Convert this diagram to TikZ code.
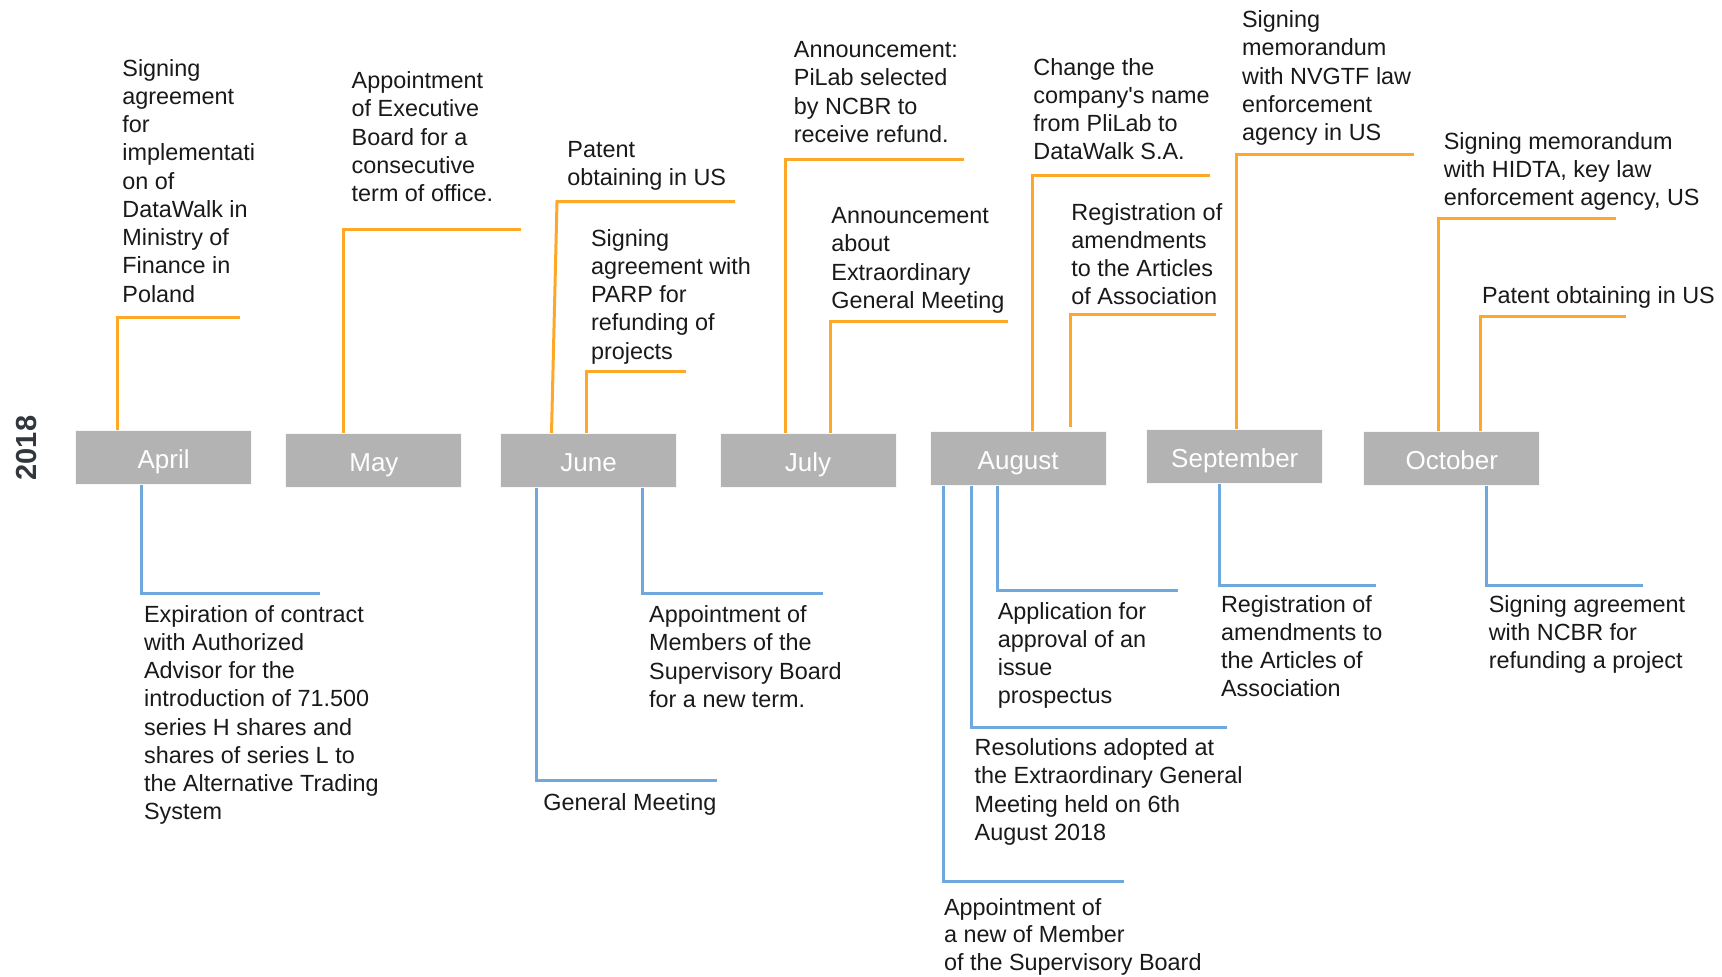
\documentclass[tikz,border=0pt]{standalone}
\usepackage{fontspec}
\setmainfont{Liberation Sans}
\definecolor{orng}{RGB}{255,167,38}
\definecolor{blu}{RGB}{111,168,220}
\definecolor{boxgray}{RGB}{179,179,179}
\definecolor{txtc}{RGB}{25,25,25}
\definecolor{yearc}{RGB}{50,55,62}
\begin{document}
\begin{tikzpicture}[x=0.5pt,y=-0.5pt,
  month/.style={fill=boxgray, draw=white!90!boxgray, line width=0.5pt, minimum width=88pt, minimum height=27pt, inner sep=0pt, text height=11.2pt, text depth=0pt, text=white, font=\fontsize{13}{15}\selectfont},
  txt/.style={anchor=base west, align=left, inner sep=0pt, text=txtc, font=\fontsize{11.7}{14.125}\selectfont},
  up/.style={draw=orng, line width=1.5pt},
  down/.style={draw=blu, line width=1.5pt}]
\useasboundingbox (0,0) rectangle (1722,976);
% year
\node[rotate=90, text=yearc, font=\fontsize{14.5}{16}\bfseries\selectfont] (year) at (26.7,448) {2018};
% months
\node[month] (apr) at (163.6,457.5) {April};
\node[month] (may) at (373.9,460) {May};
\node[month] (jun) at (588.6,460) {June};
\node[month] (jul) at (808,460) {July};
\node[month] (aug) at (1018.2,458) {August};
\node[month] (sep) at (1234.8,456) {September};
\node[month] (oct) at (1451.8,458) {October};
% top corner coordinates
\coordinate (t1) at (117.5,317.3);
\coordinate (t2) at (343.3,229.3);
\coordinate (t3) at (557,201.5);
\coordinate (t3b) at (551.5,433);
\coordinate (t4) at (586,371.7);
\coordinate (t5) at (785.8,159);
\coordinate (t6) at (830.2,321.7);
\coordinate (t7) at (1032.3,175);
\coordinate (t8) at (1070.1,314.3);
\coordinate (t9) at (1236.7,154);
\coordinate (t10) at (1438.4,218.3);
\coordinate (t11) at (1480.5,316.7);
% top connectors
\draw[up] (t1 |- apr.north) -- (t1) -- (240,317.3);
\draw[up] (t2 |- may.north) -- (t2) -- (521,229.3);
\draw[up] (t3b) -- (t3) -- (735,201.5);
\draw[up] (t4 |- jun.north) -- (t4) -- (686.3,371.7);
\draw[up] (t5 |- jul.north) -- (t5) -- (963.7,159);
\draw[up] (t6 |- jul.north) -- (t6) -- (1007.8,321.7);
\draw[up] (t7 |- aug.north) -- (t7) -- (1210,175);
\draw[up] ([yshift=2pt]t8 |- aug.north) -- (t8) -- (1215.7,314.3);
\draw[up] (t9 |- sep.north) -- (t9) -- (1413.9,154);
\draw[up] (t10 |- oct.north) -- (t10) -- (1615.6,218.3);
\draw[up] (t11 |- oct.north) -- (t11) -- (1626,316.7);
% top texts (anchored at the baseline of their last line)
\node[txt] (e1) at (122,302) {Signing\\agreement\\for\\implementati\\on of\\DataWalk in\\Ministry of\\Finance in\\Poland};
\node[txt] (e2) at (351.3,201.5) {Appointment\\of Executive\\Board for a\\consecutive\\term of office.};
\node[txt] (e3) at (567,185.25) {Patent\\obtaining in US};
\node[txt] (e4) at (590.6,359) {Signing\\agreement with\\PARP for\\refunding of\\projects};
\node[txt] (e5) at (793.5,142.25) {Announcement:\\PiLab selected\\by NCBR to\\receive refund.};
\node[txt] (e6) at (831,308.25) {Announcement\\about\\Extraordinary\\General Meeting};
\node[txt] (e7) at (1033,159.75) {Change the\\company\textquotesingle s name\\from PliLab to\\DataWalk S.A.};
\node[txt] (e8) at (1071,304.75) {Registration of\\amendments\\to the Articles\\of Association};
\node[txt] (e9) at (1241.7,140.7) {Signing\\memorandum\\with NVGTF law\\enforcement\\agency in US};
\node[txt] (e10) at (1443.4,205.5) {Signing memorandum\\with HIDTA, key law\\enforcement agency, US};
\node[txt] (e11) at (1481.6,303) {Patent obtaining in US};
% bottom corner coordinates
\coordinate (b1) at (141.5,593.3);
\coordinate (b2) at (536.4,780);
\coordinate (b3) at (642.8,593.3);
\coordinate (b4) at (943.6,881.7);
\coordinate (b5) at (971,727.3);
\coordinate (b6) at (997.4,590.7);
\coordinate (b7) at (1219.5,585);
\coordinate (b8) at (1486.7,585);
% bottom connectors
\draw[down] (b1 |- apr.south) -- (b1) -- (319.7,593.3);
\draw[down] (b2 |- jun.south) -- (b2) -- (716.8,780);
\draw[down] (b3 |- jun.south) -- (b3) -- (822.7,593.3);
\draw[down] (b4 |- aug.south) -- (b4) -- (1123.9,881.7);
\draw[down] (b5 |- aug.south) -- (b5) -- (1227.2,727.3);
\draw[down] (b6 |- aug.south) -- (b6) -- (1177.8,590.7);
\draw[down] (b7 |- sep.south) -- (b7) -- (1375.7,585);
\draw[down] (b8 |- oct.south) -- (b8) -- (1643.4,585);
% bottom texts
\node[txt] (f1) at (143.7,819.75) {Expiration of contract\\with Authorized\\Advisor for the\\introduction of 71.500\\series H shares and\\shares of series L to\\the Alternative Trading\\System};
\node[txt] (f2) at (543,810) {General Meeting};
\node[txt] (f3) at (648.8,707.25) {Appointment of\\Members of the\\Supervisory Board\\for a new term.};
\node[txt, font=\fontsize{11.7}{13.75}\selectfont] (f4) at (943.6,970) {Appointment of\\a new of Member\\of the Supervisory Board};
\node[txt] (f5) at (974.3,840.25) {Resolutions adopted at\\the Extraordinary General\\Meeting held on 6th\\August 2018};
\node[txt] (f6) at (997.4,703.75) {Application for\\approval of an\\issue\\prospectus};
\node[txt] (f7) at (1220.6,696.75) {Registration of\\amendments to\\the Articles of\\Association};
\node[txt] (f8) at (1488.4,668.5) {Signing agreement\\with NCBR for\\refunding a project};
\end{tikzpicture}
\end{document}
